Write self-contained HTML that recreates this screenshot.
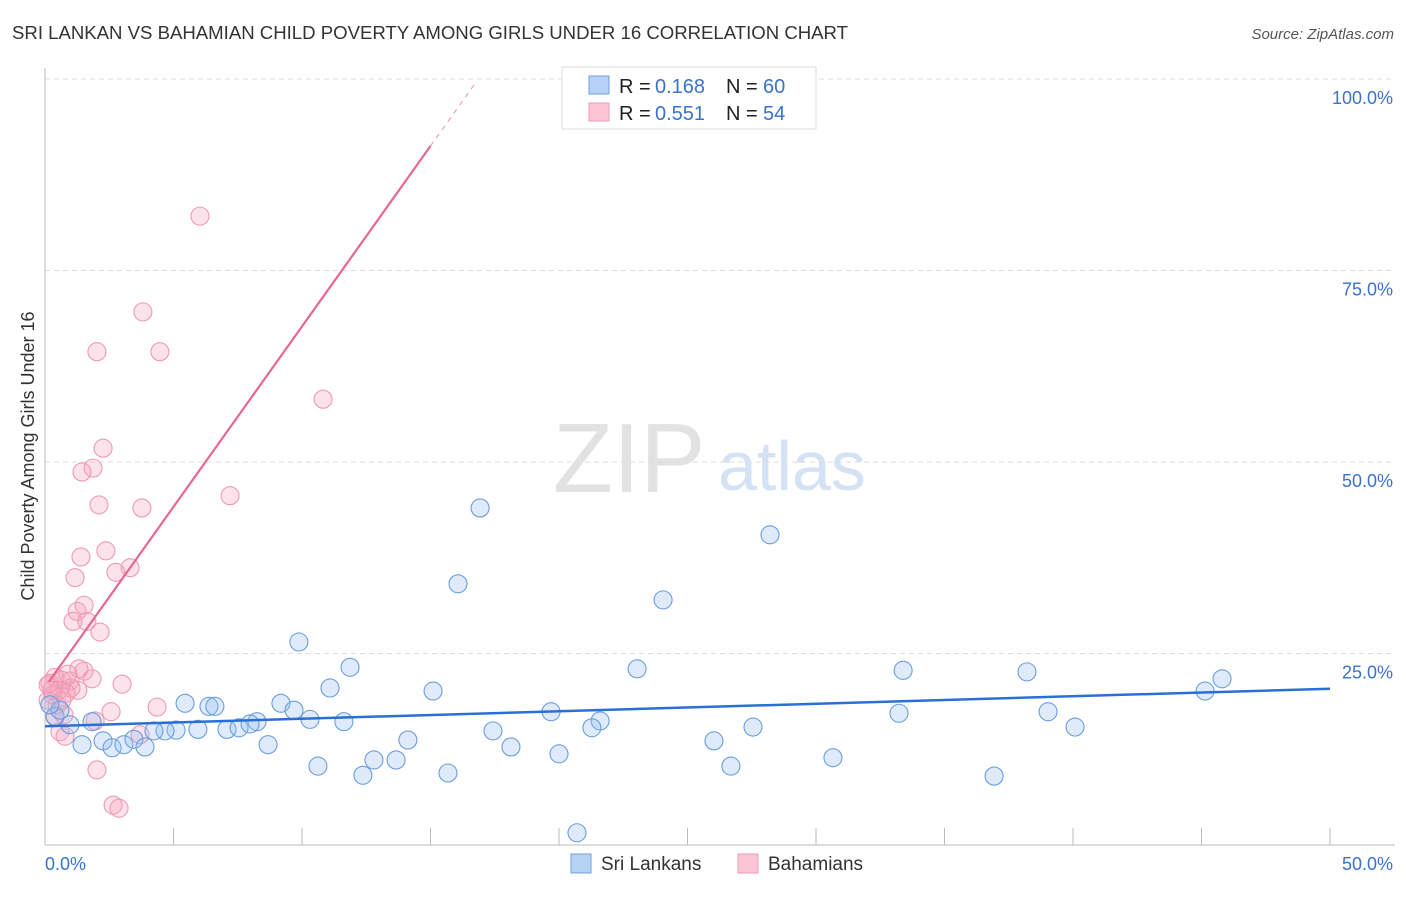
<!DOCTYPE html>
<html><head><meta charset="utf-8"><style>
body{margin:0;background:#fff;font-family:"Liberation Sans",sans-serif}
svg text{font-family:"Liberation Sans",sans-serif}
</style></head><body>
<svg id="c" width="1406" height="892">
<text x="12" y="39" font-size="18.6" fill="#333" textLength="836">SRI LANKAN VS BAHAMIAN CHILD POVERTY AMONG GIRLS UNDER 16 CORRELATION CHART</text>
<text x="1394" y="39" font-size="15" fill="#555" text-anchor="end" font-style="italic">Source: ZipAtlas.com</text>
<g>
<text x="553" y="492" font-size="98" fill="#e2e2e2" font-family="Liberation Serif,serif">ZIP</text>
<text x="718" y="490" font-size="70" fill="#d3e2f4">atlas</text>
</g>
<g id="grid"></g><g id="pts"></g><g id="lines"></g>
<text transform="translate(34,456) rotate(-90)" font-size="18" fill="#333" text-anchor="middle">Child Poverty Among Girls Under 16</text>
<g>
<rect x="562" y="67" width="254" height="62" fill="#fff" stroke="#ddd"/>
<rect x="589" y="76" width="20" height="18" fill="#b6d2f5" stroke="#6fa0df"/>
<rect x="589" y="103" width="20" height="18" fill="#fbc6d4" stroke="#ec9ab3"/>
<text x="619" y="93" font-size="20" fill="#222">R =</text><text x="655" y="93" font-size="20" fill="#3a72cc">0.168</text>
<text x="726" y="93" font-size="20" fill="#222">N =</text><text x="763" y="93" font-size="20" fill="#3a72cc">60</text>
<text x="619" y="120" font-size="20" fill="#222">R =</text><text x="655" y="120" font-size="20" fill="#3a72cc">0.551</text>
<text x="726" y="120" font-size="20" fill="#222">N =</text><text x="763" y="120" font-size="20" fill="#3a72cc">54</text>
</g>
<g>
<rect x="571" y="854" width="20" height="19" fill="#b6d2f5" stroke="#6fa0df"/>
<text x="601" y="870" font-size="19" fill="#333">Sri Lankans</text>
<rect x="738" y="854" width="20" height="19" fill="#fbc6d4" stroke="#ec9ab3"/>
<text x="768" y="870" font-size="19" fill="#333">Bahamians</text>
</g>
</svg>
<script>
const yTicks=[100,75,50,25];
const yTickLabels=["100.0%","75.0%","50.0%","25.0%"];
const xEndLabels=["0.0%","50.0%"];
const blueX=[16.93,28.21,16.07,24.05,9.88,11.87,23.04,33.39,38.21,45.8,45.14,11.09,15.1,5.45,6.38,6.61,9.18,9.69,19.69,33.23,39.03,10.31,11.63,21.6,21.28,27.55,40.08,17.43,7.08,7.55,8.25,7.98,5.1,5.95,4.67,4.24,1.83,0.97,0.39,0.58,0.19,14.12,26.03,18.13,8.68,1.44,2.26,2.61,3.07,3.46,3.89,20.0,30.66,10.62,12.8,13.66,26.69,15.68,12.37,36.93,20.7];
const blueY=[44.0,40.5,34.1,32.0,26.5,23.2,23.0,22.8,22.6,21.7,20.1,20.5,20.1,18.5,18.1,18.1,18.5,17.6,17.4,17.2,17.4,16.4,16.1,16.2,15.3,15.4,15.4,14.9,15.1,15.3,16.1,15.8,15.0,15.1,14.9,14.9,16.1,15.7,16.8,17.6,18.3,13.7,13.6,12.8,13.1,13.1,13.6,12.7,13.1,13.8,12.8,11.9,11.4,10.3,11.1,11.1,10.3,9.4,9.1,9.0,1.6];
const pinkX=[6.03,3.81,2.02,4.47,10.82,2.26,1.87,1.44,7.2,2.1,3.77,2.37,1.4,3.31,2.76,1.17,1.52,1.25,1.09,1.63,2.14,0.39,0.66,1.52,1.32,0.97,0.19,0.54,0.82,1.28,1.83,3.0,4.36,0.12,0.31,0.66,0.47,0.39,0.74,1.95,2.57,3.7,0.58,0.78,2.02,2.65,2.88,0.12,0.27,1.01,0.89];
const pinkY=[82.1,69.6,64.4,64.4,58.2,51.8,49.2,48.7,45.6,44.4,44.0,38.4,37.6,36.2,35.6,34.9,31.3,30.5,29.2,29.2,27.8,21.9,21.5,22.7,23.0,21.4,21.1,20.2,19.8,20.2,21.7,21.0,18.0,18.9,19.6,18.9,18.3,16.7,17.0,16.2,17.4,14.4,14.8,14.2,9.8,5.2,4.8,20.9,20.2,20.5,22.3];
const blueTrend=[15.5,20.4];
const pinkTrend=[20.6,4.71];
const X=v=>45+v*25.7, Y=v=>845-v*7.66;
const NS="http://www.w3.org/2000/svg";
function mk(p,t,a){const e=document.createElementNS(NS,t);for(const k in a)e.setAttribute(k,a[k]);p.appendChild(e);return e;}
const c=document.getElementById('c'),g=document.getElementById('grid'),pts=document.getElementById('pts'),ln=document.getElementById('lines');
yTicks.forEach((t,i)=>{
 const l=mk(g,'line',{x1:45,x2:1395,y1:Y(t),y2:Y(t),stroke:'#ddd','stroke-dasharray':'5,4'});
 
 
 const tx=mk(g,'text',{x:1393,y:Y(t)+25,'font-size':18,fill:'#3a72cc','text-anchor':'end'});tx.textContent=yTickLabels[i];
 
 
});
mk(g,'line',{x1:45,x2:45,y1:68,y2:845,stroke:'#bbb'});
mk(g,'line',{x1:45,x2:1395,y1:845,y2:845,stroke:'#bbb'});
for(let i=1;i<=10;i++){const t=mk(g,'line',{x1:X(i*5),x2:X(i*5),y1:828,y2:845,stroke:'#bbb'});
 
 }
const a0=mk(g,'text',{x:45,y:870,'font-size':18,fill:'#3a72cc'});a0.textContent=xEndLabels[0];


const a1=mk(g,'text',{x:1393,y:870,'font-size':18,fill:'#3a72cc','text-anchor':'end'});a1.textContent=xEndLabels[1];


pinkX.forEach((v,i)=>{const e=mk(pts,'circle',{cx:X(v),cy:Y(pinkY[i]),r:9,fill:'rgba(244,160,185,0.3)',stroke:'#ef9ab4','stroke-width':1.1});
 
 });
blueX.forEach((v,i)=>{const e=mk(pts,'circle',{cx:X(v),cy:Y(blueY[i]),r:9,fill:'rgba(150,190,240,0.3)',stroke:'#6a9edf','stroke-width':1.1});
 
 });
const bt=mk(ln,'line',{x1:X(0),y1:Y(blueTrend[0]),x2:X(50),y2:Y(blueTrend[1]),stroke:'#2a6fd6','stroke-width':2.5});


const pf=x=>pinkTrend[0]+pinkTrend[1]*x;
const pt=mk(ln,'line',{x1:X(0.15),y1:Y(pf(0.15)),x2:X(15),y2:Y(pf(15)),stroke:'#e8678f','stroke-width':2.2});


const pd=mk(ln,'line',{x1:X(15),y1:Y(pf(15)),x2:X(16.8),y2:Y(pf(16.8)),stroke:'#efa0b8','stroke-width':1.2,'stroke-dasharray':'5,5'});


</script>
</body></html>
